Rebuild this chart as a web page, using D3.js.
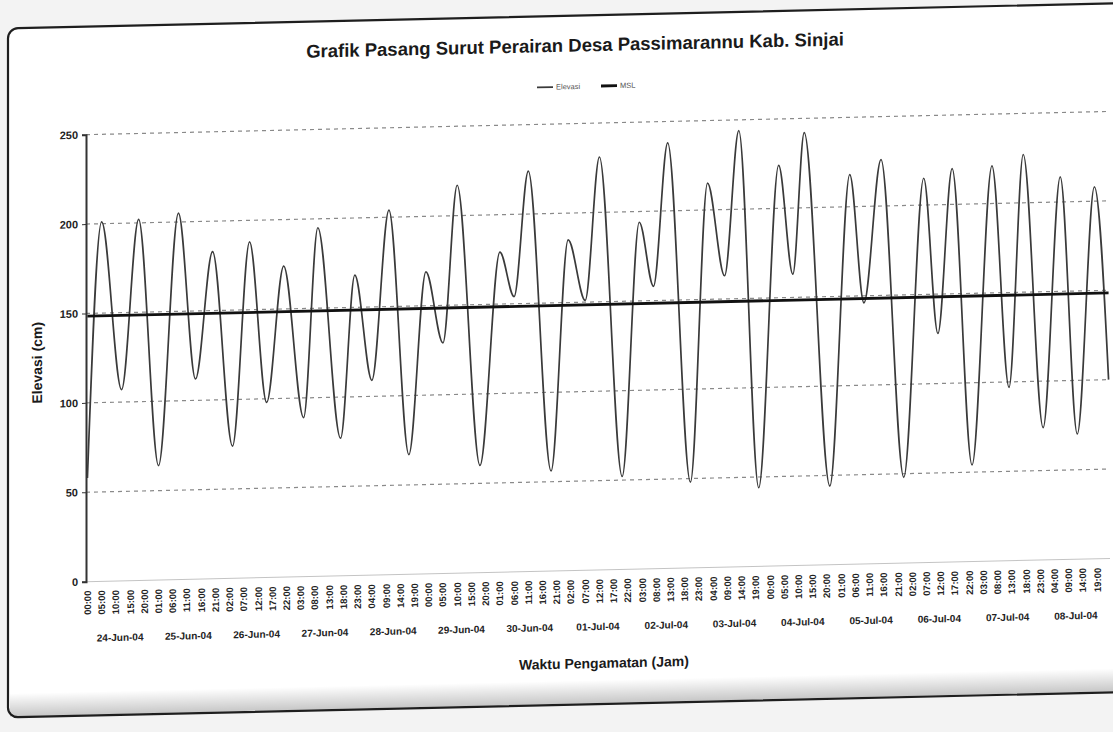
<!DOCTYPE html>
<html><head><meta charset="utf-8">
<script src="https://cdn.jsdelivr.net/npm/d3@7"></script>
<style>html,body{margin:0;padding:0;background:#f3f3f3;}svg{display:block;}</style>
</head><body>
<svg id="chart" width="1113" height="732"></svg>
<script>
// ---- data ----
// hour index from 24-Jun-04 00:00, at each high / low water
const hours = [0,5,12,18,25,32,38,44,51,57,63,69,76,81,89,94,100,106,113,119,125,130,138,145,150,155,163,169,175,180,188,194,199,204,212,218,224,229,236,243,248,252,261,268,273,279,287,294,299,304,311,318,324,329,336,342,348,354,359];
const elevasi = [58,201,107,202,64,205,112,183,74,188,98,174,89,195,77,168,109,204,67,169,129,217,60,179,154,224,56,185,151,231,52,194,158,238,48,215,163,244,44,224,163,242,44,218,146,226,48,215,128,220,54,221,97,227,74,214,70,208,100];
const mslHours = [0,359];
const mslValues = [148.5,148.5];
const dates = ["24-Jun-04","25-Jun-04","26-Jun-04","27-Jun-04","28-Jun-04","29-Jun-04","30-Jun-04","01-Jul-04","02-Jul-04","03-Jul-04","04-Jul-04","05-Jul-04","06-Jul-04","07-Jul-04","08-Jul-04"];
const yTicks = [0,50,100,150,200,250];
const timeLabelStep = 5;      // a time label every 5 hourly categories
const nHours = 360;
const titleText = "Grafik Pasang Surut Perairan Desa Passimarannu Kab. Sinjai";
const legendNames = ["Elevasi","MSL"];

const FONT = "'Liberation Sans', Arial, sans-serif";
const svg = d3.select("#chart");

// subtle page shading
const defs = svg.append("defs");
const gb = defs.append("linearGradient").attr("id","shadeB").attr("x1",0).attr("x2",0).attr("y1",0).attr("y2",1);
gb.append("stop").attr("offset","0").attr("stop-color","#000").attr("stop-opacity",0);
gb.append("stop").attr("offset","1").attr("stop-color","#000").attr("stop-opacity",0.22);

const root = svg.append("g").attr("transform","translate(600,0) skewY(-1.3) translate(-600,0)");

// chart area border
root.append("rect").attr("x",8).attr("y",15).attr("width",1130).attr("height",689)
  .attr("rx",10).attr("fill","#fff").attr("stroke","#1e1e1e").attr("stroke-width",2.2);
root.append("rect").attr("x",10).attr("y",680).attr("width",1120).attr("height",23)
  .attr("fill","url(#shadeB)");

const x = d3.scaleLinear().domain([-0.5, nHours-0.5]).range([86, 1110]);
const y = d3.scaleLinear().domain([0,250]).range([570,123]);

// gridlines
root.append("g").selectAll("line").data(yTicks.filter(d=>d>0)).join("line")
  .attr("x1",x(-0.5)).attr("x2",x(nHours-0.5))
  .attr("y1",d=>y(d)).attr("y2",d=>y(d))
  .attr("stroke","#8a8a8a").attr("stroke-width",1.2).attr("stroke-dasharray","4,4");
// category axis baseline
root.append("line").attr("x1",x(-0.5)).attr("x2",x(nHours-0.5)).attr("y1",y(0)).attr("y2",y(0))
  .attr("stroke","#c4c4c4").attr("stroke-width",1);

// y axis
const yAxis = root.append("g").attr("transform",`translate(${x(-0.5)},0)`)
  .call(d3.axisLeft(y).tickValues(yTicks).tickSize(4).tickPadding(4).tickFormat(d3.format("d")));
yAxis.select(".domain").attr("stroke","#333").attr("stroke-width",2);
yAxis.selectAll(".tick line").attr("stroke","#333");
yAxis.selectAll("text").attr("font-family",FONT).attr("font-weight","bold").attr("font-size",11).attr("fill","#222");

// time labels (rotated)
const timeTicks = d3.range(0, nHours, timeLabelStep);
root.append("g").selectAll("text").data(timeTicks).join("text")
  .attr("transform",d=>`translate(${x(d)+3.5},${y(0)+9}) rotate(-90)`)
  .attr("text-anchor","end")
  .attr("font-family",FONT).attr("font-weight","bold").attr("font-size",9.5).attr("fill","#222")
  .text(d=>String(d%24).padStart(2,"0")+":00");

// date labels
root.append("g").selectAll("text").data(dates).join("text")
  .attr("x",(d,i)=>x(i*24+11.5)).attr("y",y(0)+60)
  .attr("text-anchor","middle")
  .attr("font-family",FONT).attr("font-weight","bold").attr("font-size",10).attr("fill","#222")
  .text(d=>d);

// series
const pts = hours.map((h,i)=>({h, v: elevasi[i]}));
root.append("path").datum(pts)
  .attr("fill","none").attr("stroke","#3a3a3a").attr("stroke-width",1.7)
  .attr("d", d3.line().x(d=>x(d.h)).y(d=>y(d.v)).curve(d3.curveMonotoneX));
const mslPts = mslHours.map((h,i)=>({h, v: mslValues[i]}));
root.append("path").datum(mslPts)
  .attr("fill","none").attr("stroke","#111").attr("stroke-width",2.8)
  .attr("d", d3.line().x(d=>x(d.h)).y(d=>y(d.v)));

// title
root.append("text").attr("x",575).attr("y",51).attr("text-anchor","middle")
  .attr("font-family",FONT).attr("font-weight","bold").attr("font-size",18.5).attr("fill","#1a1a1a")
  .text(titleText);

// legend
const leg = root.append("g").attr("font-family",FONT).attr("font-size",7.5).attr("fill","#555");
const legX = [537, 601];
legendNames.forEach((n,i)=>{
  leg.append("line").attr("x1",legX[i]).attr("x2",legX[i]+16).attr("y1",86).attr("y2",86)
    .attr("stroke", i===0 ? "#3a3a3a" : "#111").attr("stroke-width", i===0 ? 1.7 : 2.8);
  leg.append("text").attr("x",legX[i]+19).attr("y",88.5).text(n);
});

// axis titles
root.append("text").attr("transform","translate(42,350) rotate(-90)").attr("text-anchor","middle")
  .attr("font-family",FONT).attr("font-weight","bold").attr("font-size",14).attr("fill","#1a1a1a")
  .text("Elevasi (cm)");
root.append("text").attr("x",604).attr("y",668).attr("text-anchor","middle")
  .attr("font-family",FONT).attr("font-weight","bold").attr("font-size",14).attr("fill","#1a1a1a")
  .text("Waktu Pengamatan (Jam)");
</script>
</body></html>
